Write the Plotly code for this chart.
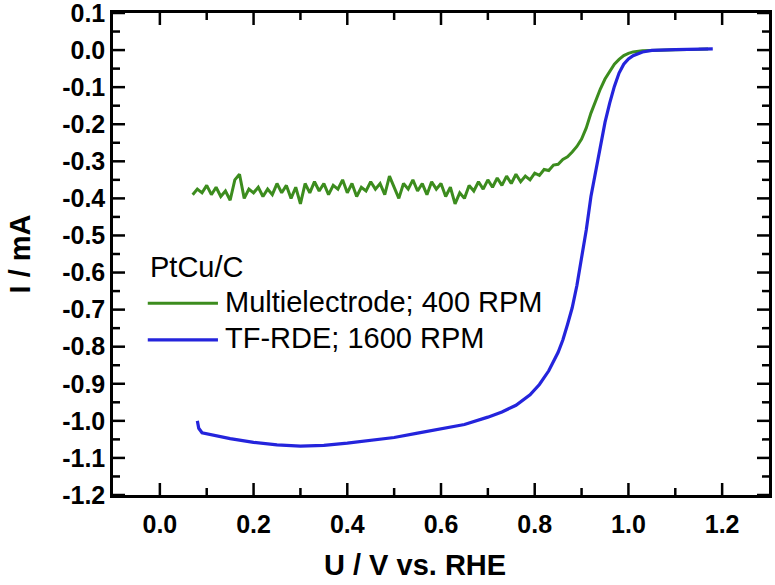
import plotly.graph_objects as go

# ---------------- data ----------------
green_x = [0.07, 0.08, 0.09, 0.10, 0.11, 0.12, 0.13, 0.14, 0.15, 0.16, 0.17, 0.18, 0.19, 0.20,
           0.21, 0.22, 0.23, 0.24, 0.25, 0.26, 0.27, 0.28, 0.29, 0.30, 0.31, 0.32, 0.33, 0.34,
           0.35, 0.36, 0.37, 0.38, 0.39, 0.40, 0.41, 0.42, 0.43, 0.44, 0.45, 0.46, 0.47, 0.48,
           0.49, 0.50, 0.51, 0.52, 0.53, 0.54, 0.55, 0.56, 0.57, 0.58, 0.59, 0.60, 0.61, 0.62,
           0.63, 0.64, 0.65, 0.66, 0.67, 0.68, 0.69, 0.70, 0.71, 0.72, 0.73, 0.74, 0.75, 0.76,
           0.77, 0.78, 0.79, 0.80, 0.81, 0.82, 0.83, 0.84, 0.85, 0.86, 0.87, 0.88, 0.89, 0.90,
           0.91, 0.92, 0.93, 0.94, 0.95, 0.96, 0.97, 0.98, 0.99, 1.00, 1.01, 1.03, 1.06, 1.10,
           1.15, 1.17]
green_y = [-0.39, -0.375, -0.385, -0.365, -0.39, -0.37, -0.395, -0.38, -0.405, -0.35, -0.335,
           -0.40, -0.375, -0.385, -0.37, -0.395, -0.375, -0.39, -0.36, -0.385, -0.365, -0.40,
           -0.37, -0.415, -0.36, -0.385, -0.355, -0.38, -0.36, -0.39, -0.365, -0.375, -0.35,
           -0.385, -0.36, -0.395, -0.37, -0.38, -0.355, -0.375, -0.36, -0.39, -0.34, -0.37,
           -0.40, -0.36, -0.375, -0.35, -0.38, -0.36, -0.39, -0.355, -0.375, -0.36, -0.395,
           -0.37, -0.415, -0.385, -0.40, -0.365, -0.38, -0.355, -0.375, -0.35, -0.37, -0.345,
           -0.365, -0.34, -0.36, -0.335, -0.355, -0.34, -0.35, -0.332, -0.338, -0.322, -0.325,
           -0.31, -0.308, -0.295, -0.288, -0.275, -0.26, -0.24, -0.21, -0.17, -0.135, -0.105,
           -0.078, -0.056, -0.038, -0.025, -0.015, -0.009, -0.005, -0.002, 0.0, 0.001, 0.002,
           0.003]

blue_x = [0.080, 0.083, 0.09, 0.12, 0.15, 0.20, 0.25, 0.30, 0.35, 0.40, 0.45, 0.50, 0.55,
          0.60, 0.65, 0.70, 0.73, 0.76, 0.79, 0.81, 0.83, 0.85, 0.86, 0.87, 0.88, 0.89, 0.90,
          0.91, 0.92, 0.93, 0.94, 0.95, 0.96, 0.97, 0.98, 0.99, 1.00, 1.01, 1.03, 1.05, 1.10,
          1.15, 1.18]
blue_y = [-1.000, -1.020, -1.032, -1.040, -1.048, -1.058, -1.065, -1.068, -1.066, -1.060,
          -1.053, -1.045, -1.033, -1.022, -1.010, -0.990, -0.976, -0.958, -0.930, -0.902,
          -0.865, -0.815, -0.782, -0.740, -0.695, -0.635, -0.565, -0.485, -0.395, -0.330,
          -0.255, -0.195, -0.143, -0.098, -0.062, -0.038, -0.024, -0.015, -0.005, -0.001,
          0.001, 0.003, 0.003]

series_names = ["Multielectrode; 400 RPM", "TF-RDE; 1600 RPM"]
legend_title = "PtCu/C"

x_range = [-0.1, 1.3]
y_range = [-1.2, 0.1]
x_tickvals = [0.0, 0.2, 0.4, 0.6, 0.8, 1.0, 1.2]
x_ticktext = ["0.0", "0.2", "0.4", "0.6", "0.8", "1.0", "1.2"]
x_minorvals = [0.1, 0.3, 0.5, 0.7, 0.9, 1.1]
y_tickvals = [0.1, 0.0, -0.1, -0.2, -0.3, -0.4, -0.5, -0.6, -0.7, -0.8, -0.9, -1.0, -1.1, -1.2]
y_ticktext = ["0.1", "0.0", "-0.1", "-0.2", "-0.3", "-0.4", "-0.5", "-0.6", "-0.7", "-0.8",
              "-0.9", "-1.0", "-1.1", "-1.2"]
y_minorvals = [0.05, -0.05, -0.15, -0.25, -0.35, -0.45, -0.55, -0.65, -0.75, -0.85, -0.95,
               -1.05, -1.15]

# ---------------- style ----------------
GREEN = "#3c8c1e"
BLUE = "#2424dc"
FONT = "Liberation Sans, Arial, sans-serif"
W, H = 775, 585
ML, MR, MT, MB = 113, 6, 13, 90
PW, PH = W - ML - MR, H - MT - MB
MAJOR_LEN, MINOR_LEN, TICK_W = 12, 7, 2.5

fig = go.Figure()
fig.add_trace(go.Scatter(x=green_x, y=green_y, mode="lines", name=series_names[0],
                         line=dict(color=GREEN, width=3), showlegend=False))
fig.add_trace(go.Scatter(x=blue_x, y=blue_y, mode="lines", name=series_names[1],
                         line=dict(color=BLUE, width=3.2), showlegend=False))

# inside tick marks on all four sides (lengths converted from px to axis units)
dx = (x_range[1] - x_range[0]) / PW
dy = (y_range[1] - y_range[0]) / PH
tx, ty = [], []
for vals, ln in ((x_tickvals, MAJOR_LEN), (x_minorvals, MINOR_LEN)):
    for v in vals:
        tx += [v, v, None, v, v, None]
        ty += [y_range[0], y_range[0] + ln * dy, None, y_range[1], y_range[1] - ln * dy, None]
for vals, ln in ((y_tickvals, MAJOR_LEN), (y_minorvals, MINOR_LEN)):
    for v in vals:
        tx += [x_range[0], x_range[0] + ln * dx, None, x_range[1], x_range[1] - ln * dx, None]
        ty += [v, v, None, v, v, None]
fig.add_trace(go.Scatter(x=tx, y=ty, mode="lines", line=dict(color="black", width=TICK_W),
                         hoverinfo="skip", showlegend=False, connectgaps=False))

tickfont = dict(family=FONT, size=25, color="black", weight="bold")

fig.update_xaxes(range=x_range, tickmode="array", tickvals=x_tickvals, ticktext=x_ticktext,
                 showline=True, linecolor="black", linewidth=2.5, mirror=True,
                 ticks="", showgrid=False, zeroline=False, tickfont=tickfont,
                 ticklabelstandoff=5, automargin=False)
fig.update_yaxes(range=y_range, tickmode="array", tickvals=y_tickvals, ticktext=y_ticktext,
                 showline=True, linecolor="black", linewidth=2.5, mirror=True,
                 ticks="", showgrid=False, zeroline=False, tickfont=tickfont,
                 ticklabeloverflow="allow", automargin=False,
                 title=dict(text="I / mA", standoff=24,
                            font=dict(family=FONT, size=29, color="black", weight="bold")))

# x-axis title
fig.add_annotation(text="U / V vs. RHE", xref="paper", yref="paper", x=0.461, y=-0.146,
                   xanchor="center", yanchor="middle", showarrow=False,
                   font=dict(family=FONT, size=29, color="black", weight="bold"))

# legend (drawn manually to match long line samples)
leg_font = dict(family=FONT, size=29, color="black")
fig.add_annotation(text=legend_title, xref="paper", yref="paper", x=0.054, y=0.473,
                   xanchor="left", yanchor="middle", showarrow=False, font=leg_font)
fig.add_annotation(text=series_names[0], xref="paper", yref="paper", x=0.168, y=0.400,
                   xanchor="left", yanchor="middle", showarrow=False, font=leg_font)
fig.add_annotation(text=series_names[1], xref="paper", yref="paper", x=0.168, y=0.326,
                   xanchor="left", yanchor="middle", showarrow=False, font=leg_font)
fig.add_shape(type="line", xref="paper", yref="paper", x0=0.053, x1=0.160, y0=0.398, y1=0.398,
              line=dict(color=GREEN, width=3))
fig.add_shape(type="line", xref="paper", yref="paper", x0=0.053, x1=0.160, y0=0.322, y1=0.322,
              line=dict(color=BLUE, width=3.2))

fig.update_layout(
    width=W, height=H,
    margin=dict(l=ML, r=MR, t=MT, b=MB),
    paper_bgcolor="white", plot_bgcolor="white",
    font=dict(family=FONT, color="black"),
)

fig.write_html("out.html")
